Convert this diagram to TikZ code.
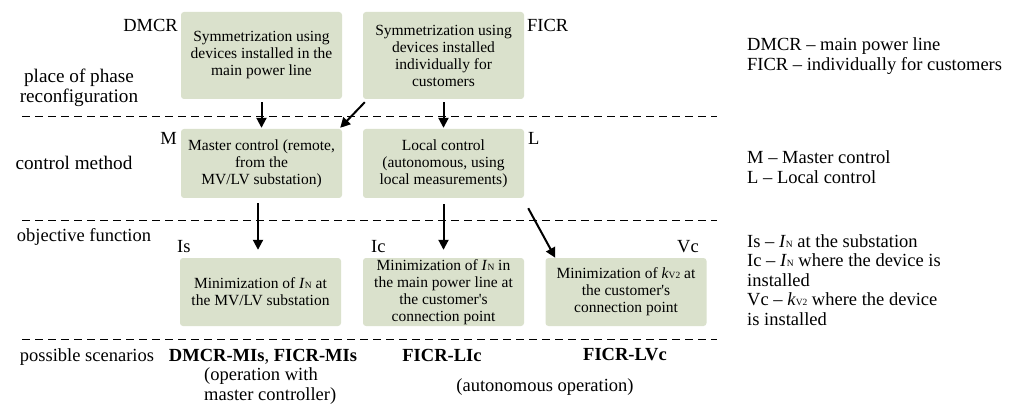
\documentclass[tikz,border=0pt]{standalone}
\usepackage{fontspec}
\setmainfont{Liberation Serif}
\usetikzlibrary{arrows.meta}
\definecolor{boxfill}{RGB}{218,225,204}
\newcommand{\boxfont}{\fontsize{15.5}{17}\selectfont}
\newcommand{\lblfont}{\fontsize{18.5}{19.5}\selectfont}
\newcommand{\bigfont}{\fontsize{19.2}{20}\selectfont}
\newcommand{\IN}{\textit{I}{\fontsize{9.5}{10}\selectfont N}}
\newcommand{\kVtwo}{\textit{k}{\fontsize{9.5}{10}\selectfont V2}}
\begin{document}
\begin{tikzpicture}[x=1pt,y=-1pt,
  box/.style={fill=boxfill, rounded corners=3pt, minimum width=161pt, inner sep=0pt, align=center, font=\boxfont},
  lbl/.style={font=\lblfont, inner sep=0pt},
  arr/.style={line width=2pt, -{Triangle[length=10pt,width=10pt]}},
  sep/.style={dash pattern=on 8pt off 5pt, line width=1pt}]
\fill[white] (0,0) rectangle (1017,406);
\useasboundingbox (0,0) rectangle (1017,406);

% separators
\draw[sep] (22,117) -- (717,117);
\draw[sep] (22,221) -- (717,221);
\draw[sep] (22,339) -- (717,339);

% boxes
\node[box, minimum height=87pt] (b1) at (261.5,55.5) {Symmetrization using\\devices installed in the\\main power line};
\node[box, minimum height=87pt] (b2) at (443.5,55.5) {Symmetrization using\\devices installed\\individually for\\customers};
\node[box, minimum height=69pt] (m) at (261.5,163.5) {Master control (remote,\\from the\\MV/LV substation)};
\node[box, minimum height=69pt] (l) at (443.5,163.5) {Local control\\(autonomous, using\\local measurements)};
\node[box, minimum height=68pt] (is) at (260.5,292) {Minimization of \IN{} at\\the MV/LV substation};
\node[box, minimum height=68pt] (ic) at (443.5,292) {Minimization of \IN{} in\\the main power line at\\the customer\textquotesingle s\\connection point};
\node[box, minimum height=68pt] (vc) at (626,292) {Minimization of \kVtwo{} at\\the customer\textquotesingle s\\connection point};

% short labels
\node[lbl, anchor=east] (dmcr) at (178,25) {DMCR};
\node[lbl, anchor=west] (ficr) at (527,25) {FICR};
\node[lbl, anchor=east] (mlab) at (177,138) {M};
\node[lbl, anchor=west] (llab) at (528,138) {L};
\node[lbl, anchor=west] (islab) at (177,247) {Is};
\node[lbl, anchor=west] (iclab) at (371,247) {Ic};
\node[lbl, anchor=east] (vclab) at (699,247) {Vc};

% row labels
\node[lbl, font=\bigfont, align=center] (place) at (79,88) {place of phase\\reconfiguration};
\node[lbl, font=\bigfont] (ctrl) at (74,163) {control method};
\node[lbl] (obj) at (84,237) {objective function};
\node[lbl] (poss) at (87,357) {possible scenarios};

% scenarios
\node[lbl] (s1) at (263,357) {\textbf{DMCR-MIs}, \textbf{FICR-MIs}};
\node[lbl, align=left, anchor=west] (s1b) at (204,386) {(operation with\\master controller)};
\node[lbl] (s2) at (442,355) {\textbf{FICR-LIc}};
\node[lbl] (s3) at (625,355) {\textbf{FICR-LVc}};
\node[lbl] (s23) at (545,387) {(autonomous operation)};

% legend
\node[lbl, align=left, anchor=west] (lg1) at (747,56) {DMCR – main power line\\FICR – individually for customers};
\node[lbl, align=left, anchor=west] (lg2) at (747,167) {M – Master control\\L – Local control};
\node[lbl, align=left, anchor=west] (lg3) at (747,280) {Is – \IN{} at the substation\\Ic – \IN{} where the device is\\installed\\Vc – \kVtwo{} where the device\\is installed};

% arrows
\draw[arr] ([shift={(0,3)}]b1.south) -- ([shift={(0,-1)}]m.north);
\draw[arr] ([shift={(2,3)}]b2.south west) -- ([shift={(-2,-1)}]m.north east);
\draw[arr] ([shift={(0,3)}]b2.south) -- ([shift={(0,-1)}]l.north);
\draw[arr] ([shift={(-3.5,5)}]m.south) -- ([shift={(-2.5,-8)}]is.north);
\draw[arr] ([shift={(0,6)}]l.south) -- ([shift={(0,-8)}]ic.north);
\draw[arr] ([shift={(4,10)}]l.south east) -- ([shift={(10,0)}]vc.north west);
\end{tikzpicture}
\end{document}
